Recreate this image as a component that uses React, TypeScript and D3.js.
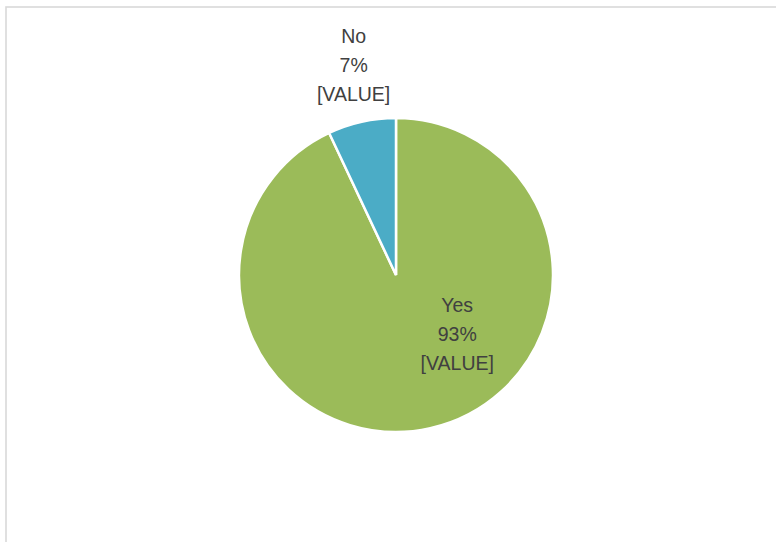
import React from "react";
import * as d3 from "d3";

const categories = ["Yes", "No"];
const values = [93, 7];
const percentLabels = ["93%", "7%"];
const valueLabels = ["[VALUE]", "[VALUE]"];
const colors = ["#9BBB59", "#4BACC6"];

const W = 776;
const H = 542;
const cx = 396;
const cy = 275;
const R = 157;

// label offsets relative to pie centre, as fractions of radius
const labelOffsets: [number, number][] = [
  [0.39, 0.332],
  [-0.27, -1.386],
];

export default function App() {
  const pie = d3
    .pie<number>()
    .sort(null)
    .value((d) => d)
    .startAngle(0)
    .endAngle(2 * Math.PI);
  const arcs = pie(values);
  const arc = d3.arc<d3.PieArcDatum<number>>().innerRadius(0).outerRadius(R);

  return (
    <div style={{ position: "absolute", left: 0, top: 0 }}>
      <svg width={W} height={H} style={{ display: "block" }}>
        <rect x={0} y={0} width={W} height={H} fill="#ffffff" />
        <rect
          x={6}
          y={7}
          width={800}
          height={600}
          fill="none"
          stroke="#D9D9D9"
          strokeWidth={1.6}
        />
        <g transform={`translate(${cx},${cy})`}>
          {arcs.map((a, i) => (
            <path
              key={categories[i]}
              d={arc(a) || ""}
              fill={colors[i]}
              stroke="#ffffff"
              strokeWidth={2.5}
              strokeLinejoin="miter"
            />
          ))}
          {arcs.map((a, i) => {
            const [fx, fy] = labelOffsets[i];
            const x = fx * R;
            const y = fy * R;
            return (
              <text
                key={"l" + i}
                x={x}
                y={y}
                textAnchor="middle"
                fontFamily="'Liberation Sans', Arial, sans-serif"
                fontSize={19.5}
                fill="#404040"
              >
                <tspan x={x} dy="-0.75em">
                  {categories[i]}
                </tspan>
                <tspan x={x} dy="1.48em">
                  {percentLabels[i]}
                </tspan>
                <tspan x={x} dy="1.48em">
                  {valueLabels[i]}
                </tspan>
              </text>
            );
          })}
        </g>
      </svg>
    </div>
  );
}
